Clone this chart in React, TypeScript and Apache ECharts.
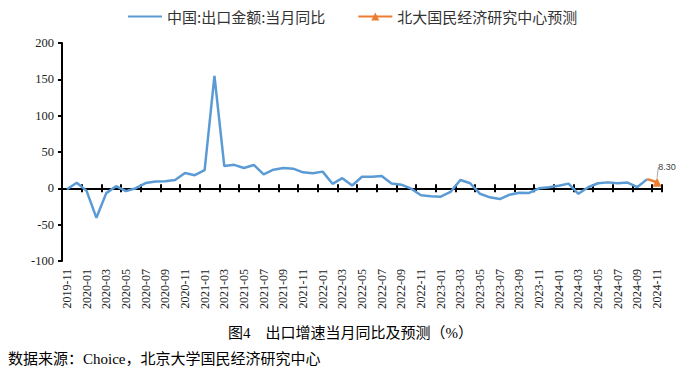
import React, { useEffect, useRef } from "react";
import * as echarts from "echarts";

const categories = [
  "2019-11", "2019-12",
  "2020-01", "2020-02", "2020-03", "2020-04", "2020-05", "2020-06", "2020-07", "2020-08", "2020-09", "2020-10", "2020-11", "2020-12",
  "2021-01", "2021-02", "2021-03", "2021-04", "2021-05", "2021-06", "2021-07", "2021-08", "2021-09", "2021-10", "2021-11", "2021-12",
  "2022-01", "2022-02", "2022-03", "2022-04", "2022-05", "2022-06", "2022-07", "2022-08", "2022-09", "2022-10", "2022-11", "2022-12",
  "2023-01", "2023-02", "2023-03", "2023-04", "2023-05", "2023-06", "2023-07", "2023-08", "2023-09", "2023-10", "2023-11", "2023-12",
  "2024-01", "2024-02", "2024-03", "2024-04", "2024-05", "2024-06", "2024-07", "2024-08", "2024-09", "2024-10", "2024-11",
];

// 中国:出口金额:当月同比 (%)
const exportYoY: (number | null)[] = [
  -1.3, 7.6,
  -3.5, -40.6, -6.6, 3.0, -3.8, 0.2, 7.2, 9.5, 9.9, 11.4, 21.1, 18.1,
  24.9, 154.9, 30.6, 32.3, 27.9, 32.2, 19.3, 25.6, 28.1, 27.1, 22.0, 20.9,
  23.0, 6.2, 14.0, 3.9, 16.0, 16.0, 17.0, 6.5, 5.0, -0.5, -9.5, -11.0,
  -11.5, -5.0, 11.5, 7.0, -7.5, -12.4, -14.8, -8.8, -6.2, -6.4, 0.0, 1.5,
  3.5, 6.5, -7.5, 1.5, 7.0, 8.2, 7.0, 8.0, 1.8, 12.7, null,
];

// 北大国民经济研究中心预测 (%)
const forecast: (number | null)[] = [
  null, null,
  null, null, null, null, null, null, null, null, null, null, null, null,
  null, null, null, null, null, null, null, null, null, null, null, null,
  null, null, null, null, null, null, null, null, null, null, null, null,
  null, null, null, null, null, null, null, null, null, null, null, null,
  null, null, null, null, null, null, null, null, null, 12.7, 8.3,
];

const yTicks = { min: -100, max: 200, interval: 50 };

const seriesNames = ["中国:出口金额:当月同比", "北大国民经济研究中心预测"];

const captionText = "图4　出口增速当月同比及预测（%）";
const sourceText = "数据来源：Choice，北京大学国民经济研究中心";

export default function App() {
  const ref = useRef<HTMLDivElement>(null);

  useEffect(() => {
    if (!ref.current) return;
    const chart = echarts.init(ref.current, null, { renderer: "svg" });
    const lastIdx = forecast.length - 1;
    const forecastData = forecast.map((v, i) => {
      if (v == null) return null;
      if (i === lastIdx) {
        return {
          value: v,
          label: {
            show: true,
            position: "top",
            distance: 4,
            formatter: (p: any) => Number(p.value).toFixed(2),
            fontSize: 9,
            fontFamily: "'Liberation Sans', Arial, sans-serif",
            color: "#404040",
          },
          labelLine: { show: true, lineStyle: { color: "#A6A6A6", width: 1 } },
        };
      }
      return { value: v, symbol: "none" };
    });

    const baseX = {
      type: "category",
      data: categories,
      boundaryGap: true,
      gridIndex: 0,
    };

    chart.setOption({
      animation: false,
      grid: { left: 62, right: 27, top: 43, bottom: 110, containLabel: false },
      legend: {
        left: 122,
        top: 4,
        itemWidth: 34,
        itemHeight: 10,
        itemGap: 32,
        textStyle: {
          fontFamily: "'Noto Sans CJK SC', sans-serif",
          fontSize: 15,
          color: "#333",
        },
        data: [
          { name: seriesNames[0], itemStyle: { opacity: 0 } },
          { name: seriesNames[1] },
        ],
      },
      xAxis: [
        {
          ...baseX,
          position: "bottom",
          axisLine: { show: false, onZero: false },
          axisTick: { show: false },
          axisLabel: {
            interval: 1,
            rotate: 90,
            margin: 8,
            fontSize: 12,
            fontFamily: "'Liberation Serif', 'Times New Roman', serif",
            color: "#222",
          },
          splitLine: { show: false },
        },
        {
          ...baseX,
          position: "bottom",
          axisLine: { show: true, onZero: true, onZeroAxisIndex: 0, lineStyle: { color: "#000", width: 2 } },
          axisTick: { show: true, interval: 1, inside: false, length: 4, lineStyle: { color: "#000", width: 2 } },
          axisLabel: { show: false },
          splitLine: { show: false },
        },
        {
          ...baseX,
          position: "top",
          axisLine: { show: false, onZero: true, onZeroAxisIndex: 0 },
          axisTick: { show: true, interval: 1, inside: false, length: 4, lineStyle: { color: "#000", width: 2 } },
          axisLabel: { show: false },
          splitLine: { show: false },
        },
      ],
      yAxis: {
        type: "value",
        min: yTicks.min,
        max: yTicks.max,
        interval: yTicks.interval,
        axisLine: { show: true, lineStyle: { color: "#000", width: 2 } },
        axisTick: { show: true, length: 4, lineStyle: { color: "#000", width: 2 } },
        splitLine: { show: false },
        axisLabel: {
          margin: 8,
          fontSize: 12.5,
          fontFamily: "'Liberation Serif', 'Times New Roman', serif",
          color: "#222",
        },
      },
      series: [
        {
          name: seriesNames[0],
          type: "line",
          xAxisIndex: 0,
          data: exportYoY,
          symbol: "none",
          lineStyle: { color: "#5B9BD5", width: 2.5 },
          itemStyle: { color: "#5B9BD5" },
          z: 3,
        },
        {
          name: seriesNames[1],
          type: "line",
          xAxisIndex: 0,
          data: forecastData,
          symbol: "triangle",
          symbolSize: 9,
          showAllSymbol: true,
          connectNulls: false,
          lineStyle: { color: "#ED7D31", width: 2.5 },
          itemStyle: { color: "#ED7D31" },
          labelLayout: { dx: 10, dy: -2 },
          z: 4,
        },
      ],
      graphic: [
        {
          type: "text",
          left: 228,
          top: 325,
          style: {
            text: captionText,
            font: "15px 'Liberation Serif', 'Noto Sans CJK SC', serif",
            fill: "#000",
          },
        },
        {
          type: "text",
          left: 8,
          top: 351,
          style: {
            text: sourceText,
            font: "15px 'Liberation Serif', 'Noto Sans CJK SC', serif",
            fill: "#000",
          },
        },
      ],
    });
    return () => chart.dispose();
  }, []);

  return (
    <div
      ref={ref}
      style={{ position: "absolute", left: 0, top: 0, width: 689, height: 371 }}
    />
  );
}
